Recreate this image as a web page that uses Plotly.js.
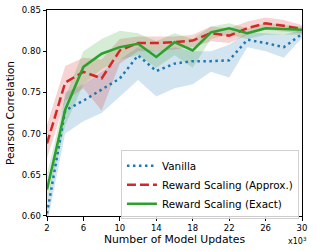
<!DOCTYPE html>
<html>
<head>
<meta charset="utf-8">
<script src="https://cdn.plot.ly/plotly-3.0.1.min.js"></script>
<style>
html,body{margin:0;padding:0;background:#fff;}
#chart{width:317px;height:251px;}
</style>
</head>
<body>
<div id="chart"></div>
<script>
const updates = [2,4,6,8,10,12,14,16,18,20,22,24,26,28,30];

const vanillaMean  = [0.603,0.728,0.740,0.753,0.767,0.795,0.776,0.785,0.788,0.788,0.789,0.814,0.810,0.805,0.821];
const vanillaLow   = [0.590,0.700,0.715,0.725,0.745,0.765,0.745,0.755,0.760,0.775,0.768,0.805,0.800,0.792,0.816];
const vanillaHigh  = [0.612,0.750,0.760,0.775,0.790,0.805,0.800,0.805,0.800,0.800,0.808,0.823,0.822,0.820,0.826];

const approxMean   = [0.688,0.762,0.775,0.767,0.801,0.810,0.810,0.811,0.813,0.822,0.819,0.828,0.834,0.831,0.827];
const approxLow    = [0.670,0.740,0.755,0.728,0.785,0.800,0.800,0.802,0.805,0.812,0.810,0.820,0.826,0.824,0.822];
const approxHigh   = [0.710,0.782,0.792,0.790,0.815,0.818,0.818,0.818,0.820,0.830,0.828,0.836,0.841,0.838,0.832];

const exactMean    = [0.632,0.729,0.781,0.797,0.805,0.809,0.793,0.811,0.801,0.823,0.828,0.822,0.828,0.827,0.826];
const exactLow     = [0.615,0.710,0.760,0.778,0.790,0.795,0.780,0.795,0.780,0.815,0.820,0.815,0.820,0.820,0.820];
const exactHigh    = [0.650,0.745,0.800,0.815,0.825,0.822,0.812,0.822,0.815,0.830,0.834,0.828,0.834,0.832,0.830];

const seriesNames = ['Vanilla','Reward Scaling (Approx.)','Reward Scaling (Exact)'];
const xTicks = [2,6,10,14,18,22,26,30];
const yTickLabels = ['0.60','0.65','0.70','0.75','0.80','0.85'];

const series = [
  {name: seriesNames[0], mean: vanillaMean, low: vanillaLow, high: vanillaHigh, color:'#1f77b4', band:'rgba(31,119,180,0.2)', dash:'2.5px,3.5px'},
  {name: seriesNames[1], mean: approxMean, low: approxLow, high: approxHigh, color:'#d62728', band:'rgba(214,39,40,0.2)', dash:'9px,4px'},
  {name: seriesNames[2], mean: exactMean, low: exactLow, high: exactHigh, color:'#2ca02c', band:'rgba(44,160,44,0.2)', dash:'solid'}
];

const traces = [];
series.forEach(s => {
  traces.push({x: updates, y: s.low, mode:'lines', line:{width:0, color:s.band}, showlegend:false, hoverinfo:'skip'});
  traces.push({x: updates, y: s.high, mode:'lines', line:{width:0, color:s.band}, fill:'tonexty', fillcolor:s.band, showlegend:false, hoverinfo:'skip'});
});
series.forEach(s => {
  traces.push({x: updates, y: s.mean, mode:'lines', name: s.name, line:{color:s.color, width:2.5, dash:s.dash}});
});

const font = {family:'DejaVu Sans, sans-serif', color:'#000'};

const layout = {
  width:317, height:251,
  margin:{l:46.5, r:15, t:9.5, b:35},
  paper_bgcolor:'#fff', plot_bgcolor:'#fff',
  font: Object.assign({size:8.5}, font),
  showlegend:true,
  xaxis:{
    range:[2,30], tickmode:'array', tickvals:xTicks, ticktext:xTicks.map(String),
    ticks:'outside', ticklen:3.5, tickwidth:1, tickcolor:'#000',
    showline:true, linecolor:'#000', linewidth:1, mirror:true,
    showgrid:false, zeroline:false,
    tickfont:{size:8.5},
    title:{text:'Number of Model Updates', font:{size:10.8}, standoff:3}
  },
  yaxis:{
    range:[0.5999, 0.8501], tickmode:'linear', tick0:0.60, dtick:0.05, tickformat:'.2f',
    ticks:'outside', ticklen:3.5, tickwidth:1, tickcolor:'#000',
    showline:true, linecolor:'#000', linewidth:1, mirror:true,
    showgrid:false, zeroline:false,
    tickfont:{size:8.5},
    title:{text:'Pearson Correlation', font:{size:10.6}, standoff:5}
  },
  legend:{
    x:0.29, y:0.152, xanchor:'left', yanchor:'middle', traceorder:'normal',
    bgcolor:'rgba(255,255,255,0.8)', bordercolor:'#d0d0d0', borderwidth:1,
    font:{size:10.4}, tracegroupgap:0, itemwidth:30
  },
  annotations:[{
    text:'x10<sup>3</sup>', xref:'paper', yref:'paper', x:0.984, y:-0.12,
    xanchor:'center', yanchor:'middle', showarrow:false, font:{size:8}
  }]
};

Plotly.newPlot('chart', traces, layout, {staticPlot:true, displayModeBar:false});
</script>
</body>
</html>
